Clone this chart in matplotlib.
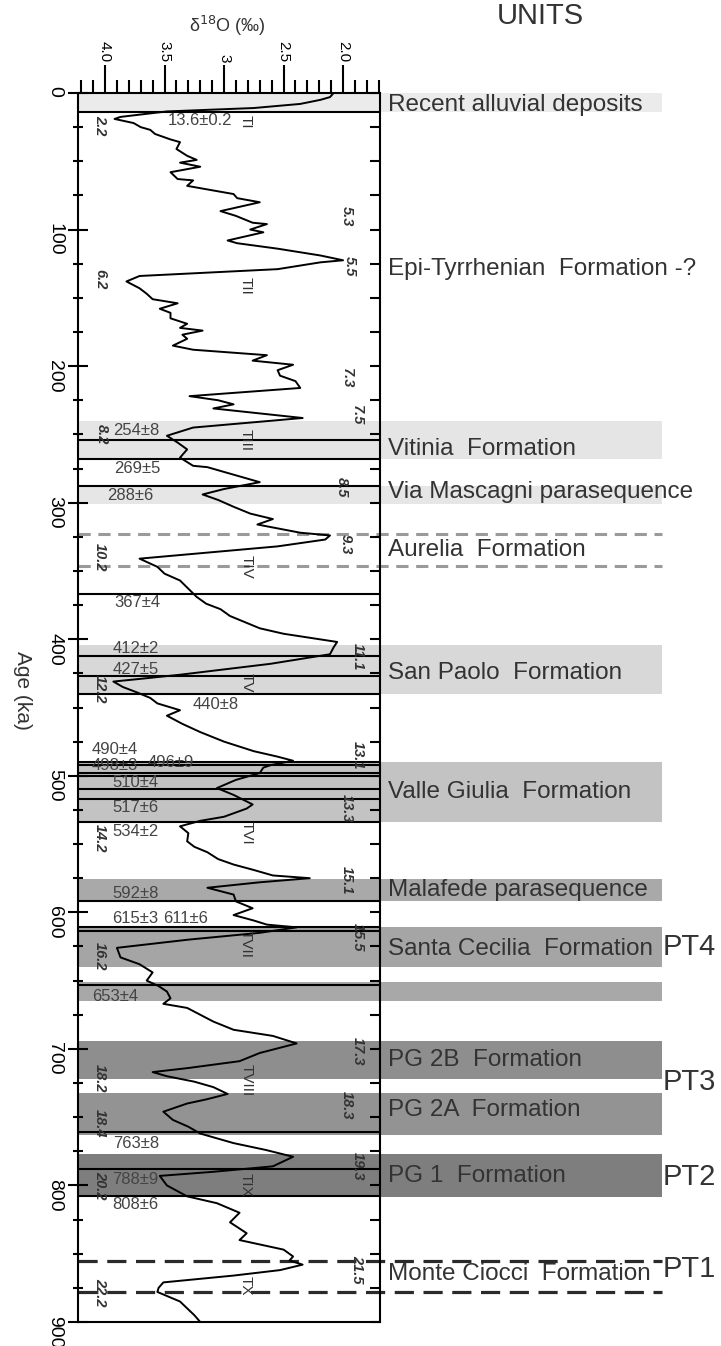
import matplotlib.pyplot as plt
from matplotlib.ticker import MultipleLocator, FixedLocator, FixedFormatter

plt.rcParams['font.family'] = ['Liberation Sans', 'DejaVu Sans']

# benthic d18O record (age in ka, d18O in permil)
age = [0, 3, 5, 8, 11, 13.5, 17.5, 19, 22, 25, 27, 30, 34, 36, 41, 46, 49, 51, 54, 58,
       63, 64, 68, 74, 77, 80, 86.5, 90, 95, 96, 100, 102, 108, 110, 114, 119, 122.5, 124,
       129, 130, 134, 138, 143, 147, 151, 154, 158, 161, 165, 169, 172, 174, 177, 180, 185,
       188, 192, 196, 199, 203, 207, 211, 216, 222, 225, 228, 231, 238, 245, 251, 256, 261,
       267, 273, 274, 280, 285, 290, 294, 298, 303, 308, 312, 316, 322, 324, 327, 332, 341,
       347, 352, 357, 363, 369, 374, 378, 383, 388, 392, 396, 400, 402, 406, 411, 418, 426,
       429, 431, 435, 439, 443, 447, 452, 456, 462, 468, 475, 482, 486, 489, 492, 494, 498,
       503, 509, 514, 521, 524, 530, 533, 537, 542, 548, 552, 556, 561, 565, 569, 573, 575,
       578, 582, 587, 592, 597, 602, 606, 609, 611, 615, 620, 626, 633, 638, 644, 650, 654,
       658, 663, 667, 670, 675, 680, 686, 690.5, 696, 703, 709, 714, 717, 720, 724, 728, 733,
       737, 740, 746, 752, 757, 762, 769, 774, 779, 786, 790, 793, 800, 808, 813, 820, 827,
       835, 840, 847, 852, 855, 858, 862, 866, 871, 875, 878, 885, 890, 895, 900]
d18o = [2.08, 2.11, 2.19, 2.36, 2.75, 3.48, 3.87, 3.92, 3.76, 3.70, 3.62, 3.58, 3.45, 3.37,
        3.40, 3.31, 3.23, 3.37, 3.20, 3.45, 3.39, 3.26, 3.31, 2.92, 2.89, 2.70, 3.03, 2.90,
        2.76, 2.64, 2.78, 2.67, 2.97, 2.89, 2.55, 2.19, 2.00, 2.19, 2.55, 2.78, 3.71, 3.82,
        3.71, 3.65, 3.60, 3.39, 3.54, 3.45, 3.45, 3.31, 3.37, 3.18, 3.35, 3.31, 3.43, 3.26,
        2.64, 2.76, 2.42, 2.55, 2.53, 2.40, 2.36, 3.29, 3.05, 2.92, 3.09, 2.34, 3.26, 3.48,
        3.39, 3.31, 3.37, 3.26, 3.14, 2.90, 2.70, 3.00, 3.18, 3.05, 2.92, 2.78, 2.59, 2.72,
        2.36, 2.11, 2.15, 2.55, 3.71, 3.56, 3.50, 3.37, 3.30, 3.23, 3.15, 3.03, 2.95, 2.81,
        2.70, 2.50, 2.20, 2.05, 2.08, 2.11, 2.61, 3.37, 3.70, 3.93, 3.85, 3.73, 3.62, 3.56,
        3.37, 3.48, 3.35, 3.20, 3.00, 2.75, 2.55, 2.42, 2.60, 2.67, 2.70, 2.90, 3.06, 2.92,
        2.76, 2.81, 3.00, 3.20, 3.37, 3.30, 3.31, 3.25, 3.14, 3.05, 2.92, 2.75, 2.59, 2.28,
        2.70, 3.14, 2.92, 2.90, 2.76, 2.92, 2.75, 2.64, 2.39, 2.70, 3.30, 3.90, 3.87, 3.71,
        3.60, 3.65, 3.55, 3.48, 3.45, 3.51, 3.31, 3.20, 3.09, 2.92, 2.59, 2.39, 2.70, 2.87,
        3.30, 3.60, 3.48, 3.25, 3.09, 2.97, 3.15, 3.31, 3.51, 3.43, 3.30, 3.20, 2.92, 2.65,
        2.42, 2.59, 3.09, 3.54, 3.48, 3.31, 3.06, 2.87, 2.95, 2.81, 2.87, 2.50, 2.42, 2.45,
        2.34, 2.53, 2.92, 3.51, 3.55, 3.56, 3.37, 3.31, 3.25, 3.20]

# stratigraphic units (ka)
unit_names = ['Recent alluvial deposits', 'Epi-Tyrrhenian  Formation -?', 'Vitinia  Formation',
              'Via Mascagni parasequence', 'Aurelia  Formation', 'San Paolo  Formation',
              'Valle Giulia  Formation', 'Malafede parasequence', 'Santa Cecilia  Formation',
              'PG 2B  Formation', 'PG 2A  Formation', 'PG 1  Formation', 'Monte Ciocci  Formation']
unit_label_age = [9, 129, 261, 292.5, 335, 425, 512, 583.5, 627, 708, 745, 793, 865]

band_top = [0, 240, 287.5, 404, 490, 575.5, 610.5, 651, 694, 732, 777]
band_bottom = [13.6, 268, 301, 440, 534, 592, 640, 665, 722, 763, 808.5]
band_grey = ['#ebebeb', '#e5e5e5', '#e6e6e6', '#d8d8d8', '#c3c3c3', '#a9a9a9', '#a5a5a5',
             '#a8a8a8', '#8e8e8e', '#939393', '#7e7e7e']

aurelia_bounds = [323, 346.5]
ciocci_bounds = [855, 878]

pt_names = ['PT4', 'PT3', 'PT2', 'PT1']
pt_age = [625.5, 724, 794, 861.5]

# dated levels
date_ages = [13.6, 254, 268, 288, 367, 412, 427, 440, 490, 492, 498, 500, 510, 517, 534,
             592, 611, 614, 653, 761, 788, 808]
date_text = ['13.6±0.2', '254±8', '269±5', '288±6', '367±4', '412±2', '427±5', '440±8',
             '490±4', '498±3', '496±9', '510±4', '517±6', '534±2', '592±8', '615±3',
             '611±6', '653±4', '763±8', '788±9', '808±6']
date_x = [3.47, 3.93, 3.92, 3.98, 3.92, 3.94, 3.94, 3.26, 4.11, 4.11, 3.64, 3.94, 3.94,
          3.94, 3.94, 3.94, 3.51, 4.11, 3.93, 3.94, 3.94]
date_y = [20.4, 247.4, 275, 295, 373, 406.7, 422, 447.5, 481, 492.6, 490.4, 505, 523,
          540.6, 586.4, 604.6, 604.6, 661.4, 769, 795.3, 814]

# marine isotope substages
mis_text = ['2.2', '5.3', '5.5', '6.2', '7.3', '7.5', '8.2', '8.5', '9.3', '10.2', '11.1',
            '12.2', '13.1', '13.3', '14.2', '15.1', '15.5', '16.2', '17.3', '18.2', '18.3',
            '18.4', '19.3', '20.2', '21.5', '22.2']
mis_x = [4.04, 1.97, 1.94, 4.04, 1.97, 1.88, 4.03, 2.01, 1.98, 4.04, 1.88, 4.04, 1.88,
         1.97, 4.04, 1.97, 1.88, 4.04, 1.88, 4.04, 1.97, 4.04, 1.88, 4.04, 1.88, 4.04]
mis_y = [23.3, 90.2, 126.6, 136, 208.8, 235.7, 249.6, 288.9, 330.3, 339.8, 412.5, 436.6,
         485.3, 523.9, 545.7, 576.3, 618.5, 632.3, 701.4, 721.8, 741.4, 754.5, 785.8,
         799.6, 861.5, 878.2]

# terminations
term_text = ['TI', 'TII', 'TIII', 'TIV', 'TV', 'TVI', 'TVII', 'TVIII', 'TIX', 'TX']
term_x = [2.82, 2.82, 2.82, 2.81, 2.81, 2.81, 2.82, 2.81, 2.82, 2.82]
term_y = [21.1, 141.2, 254, 347, 432.2, 542, 623.5, 723.2, 799.6, 873.1]

xticks = [4.0, 3.5, 3.0, 2.5, 2.0]
xtick_labels = ['4.0', '3.5', '3', '2.5', '2.0']

fig = plt.figure(figsize=(7.21, 13.46), dpi=100)
ax = fig.add_axes([78 / 721, 24 / 1346, 302 / 721, 1229 / 1346])
ax.set_xlim(4.227, 1.69)
ax.set_ylim(900, 0)
ext = (662 - 78) / 302.0

for t, b, c in zip(band_top, band_bottom, band_grey):
    ax.axhspan(t, b, xmin=0, xmax=ext, color=c, lw=0, clip_on=False, zorder=0)

for a in date_ages:
    ax.axhline(a, color='k', lw=1.5, zorder=2)

for a in aurelia_bounds:
    ax.axhline(a, xmin=0, xmax=ext, color='#9a9a9a', lw=2.2, ls=(0, (4, 2.5)),
               clip_on=False, zorder=2)
for a in ciocci_bounds:
    ax.axhline(a, xmin=0, xmax=ext, color='#2a2a2a', lw=2.3, ls=(0, (6, 3)),
               clip_on=False, zorder=2)

ax.plot(d18o, age, color='k', lw=1.4, zorder=3)

for s, x, y in zip(date_text, date_x, date_y):
    ax.text(x, y, s, fontsize=12, color='#444444', ha='left', va='center', zorder=4)
for s, x, y in zip(mis_text, mis_x, mis_y):
    ax.text(x, y, s, fontsize=10.5, style='italic', weight='bold', color='#333333',
            rotation=-90, ha='center', va='center', zorder=4)
for s, x, y in zip(term_text, term_x, term_y):
    ax.text(x, y, s, fontsize=11, color='#333333', rotation=-90,
            ha='center', va='center', zorder=4)

tr = ax.get_yaxis_transform()
for s, y in zip(unit_names, unit_label_age):
    ax.text(1.026, y, s, transform=tr, fontsize=17.5, color='#333333',
            ha='left', va='center', clip_on=False)
for s, y in zip(pt_names, pt_age):
    ax.text(1.937, y, s, transform=tr, fontsize=21, color='#333333',
            ha='left', va='center', clip_on=False)

# axes, ticks
for sp in ax.spines.values():
    sp.set_linewidth(1.5)
ax.xaxis.tick_top()
ax.xaxis.set_major_locator(FixedLocator(xticks))
ax.xaxis.set_major_formatter(FixedFormatter(xtick_labels))
ax.xaxis.set_minor_locator(MultipleLocator(0.1))
ax.tick_params(axis='x', which='major', direction='out', length=20, width=1.5,
               labelsize=11, labelrotation=-90, pad=2)
ax.tick_params(axis='x', which='minor', direction='out', length=9.5, width=1.5)

ax.yaxis.set_major_locator(MultipleLocator(100))
ax.yaxis.set_minor_locator(MultipleLocator(25))
ax.tick_params(axis='y', which='major', direction='inout', length=15, width=1.5,
               labelsize=14, labelrotation=-90, pad=3)
ax.tick_params(axis='y', which='minor', direction='inout', length=7, width=1.5)

ax2 = ax.twinx()
ax2.set_ylim(900, 0)
ax2.yaxis.set_major_locator(MultipleLocator(100))
ax2.yaxis.set_minor_locator(MultipleLocator(25))
ax2.tick_params(axis='y', which='both', direction='in', length=7, width=1.5, labelright=False)
for sp in ax2.spines.values():
    sp.set_visible(False)

fig.text(22 / 721, 1 - 690 / 1346, 'Age (ka)', fontsize=15, color='#333333',
         rotation=-90, ha='center', va='center')
fig.text(227 / 721, 1 - 32 / 1346, 'δ$^{18}$O (‰)', fontsize=13, color='#333333',
         ha='center', va='baseline')
fig.text(540 / 721, 1 - 24 / 1346, 'UNITS', fontsize=21, color='#333333',
         ha='center', va='baseline')

fig.savefig('out.png', dpi=100)
